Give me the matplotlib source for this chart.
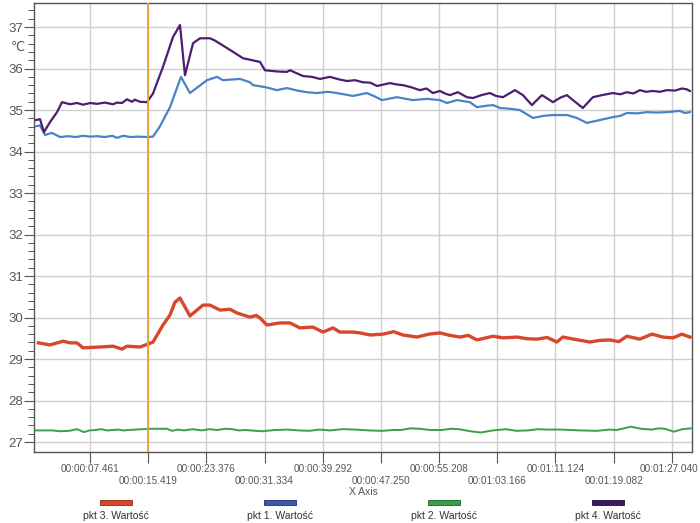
import matplotlib
matplotlib.use("Agg")
import matplotlib.pyplot as plt
import matplotlib.transforms as mtransforms
from matplotlib.patches import Rectangle

plt.rcParams['font.family'] = ['Liberation Sans Narrow', 'Liberation Sans', 'DejaVu Sans']

# ---- data (time in seconds, temperature in °C) ----
t_p4 = [0.08, 0.62, 1.17, 1.99, 2.95, 3.63, 4.73, 5.68, 6.50, 7.5, 8.42, 9.5, 10.61, 11.15,
        11.84, 12.52, 13.2, 13.6, 14.30, 15.25, 16.08, 17.44, 18.81, 19.77, 20.45, 21.55,
        22.50, 23.87, 24.5, 26.60, 28.38, 30.71, 31.39, 33.03, 34.40, 34.81, 36.59, 37.8,
        38.91, 40.28, 41.5, 42.60, 43.7, 44.79, 45.8, 46.71, 48.48, 49.3, 50.26, 51.4, 52.58,
        53.5, 54.36, 55.32, 56.0, 56.69, 57.78, 59.01, 59.83, 61.0, 62.16, 63.0, 63.94, 65.0,
        65.58, 66.67, 67.90, 69.27, 70.0, 70.77, 71.8, 72.69, 73.8, 74.87, 76.24, 77.5, 78.97,
        80.0, 80.89, 81.8, 82.67, 83.5, 84.45, 85.4, 86.36, 87.5, 88.4, 89.09, 89.51]
v_p4 = [34.76, 34.78, 34.47, 34.71, 34.95, 35.19, 35.14, 35.17, 35.13, 35.17, 35.15, 35.18,
        35.14, 35.18, 35.17, 35.26, 35.20, 35.25, 35.20, 35.19, 35.40, 36.04, 36.76, 37.05,
        35.84, 36.61, 36.73, 36.73, 36.68, 36.45, 36.25, 36.16, 35.96, 35.93, 35.92, 35.96,
        35.82, 35.80, 35.75, 35.80, 35.74, 35.70, 35.72, 35.67, 35.66, 35.58, 35.65, 35.62,
        35.60, 35.55, 35.48, 35.52, 35.41, 35.46, 35.40, 35.36, 35.43, 35.31, 35.29, 35.36,
        35.41, 35.34, 35.31, 35.42, 35.48, 35.36, 35.12, 35.36, 35.28, 35.19, 35.30, 35.36,
        35.20, 35.05, 35.31, 35.36, 35.41, 35.38, 35.43, 35.40, 35.48, 35.44, 35.46, 35.44,
        35.48, 35.47, 35.52, 35.50, 35.46]

t_p1 = [0.08, 0.62, 1.31, 2.26, 3.36, 4.5, 5.5, 6.5, 7.5, 8.42, 9.5, 10.5, 11.15, 12.0, 13.0,
        14.0, 15.3, 16.08, 17.0, 18.40, 19.90, 21.13, 23.46, 24.83, 25.65, 27.97, 29.34,
        29.75, 31.5, 33.03, 34.40, 35.8, 37.13, 38.50, 40.0, 41.24, 43.42, 45.34, 46.5, 47.39,
        49.44, 51.63, 53.54, 55.32, 56.28, 57.64, 59.42, 60.38, 61.5, 62.57, 63.54, 65.0,
        66.26, 68.04, 69.5, 70.77, 72.69, 74.05, 75.42, 77.20, 78.97, 80.0, 80.89, 82.3,
        83.62, 85.0, 86.36, 88.14, 88.8, 89.51]
v_p1 = [34.61, 34.63, 34.40, 34.45, 34.35, 34.37, 34.35, 34.38, 34.36, 34.37, 34.35, 34.38,
        34.33, 34.38, 34.35, 34.36, 34.35, 34.36, 34.60, 35.07, 35.80, 35.41, 35.72, 35.80,
        35.72, 35.75, 35.67, 35.60, 35.55, 35.48, 35.53, 35.47, 35.43, 35.41, 35.44, 35.41,
        35.34, 35.41, 35.32, 35.24, 35.31, 35.24, 35.27, 35.24, 35.17, 35.24, 35.19, 35.07,
        35.10, 35.12, 35.05, 35.03, 35.00, 34.81, 34.86, 34.88, 34.88, 34.81, 34.69, 34.76,
        34.83, 34.86, 34.93, 34.92, 34.95, 34.94, 34.95, 34.98, 34.93, 34.95]

t_p3 = [0.4, 1.99, 3.77, 4.73, 5.68, 6.50, 8.83, 10.61, 11.84, 12.52, 14.30, 15.39, 16.08,
        17.44, 18.40, 19.08, 19.77, 21.13, 22.91, 23.87, 25.24, 26.60, 27.56, 29.34, 30.2,
        30.71, 31.66, 33.44, 34.81, 36.18, 37.95, 39.32, 40.69, 41.65, 43.42, 44.38, 45.8,
        47.52, 49.0, 50.26, 52.17, 53.8, 55.32, 56.7, 58.06, 59.2, 60.38, 62.57, 64.0, 65.85,
        67.2, 68.58, 70.0, 71.32, 72.14, 73.9, 75.83, 77.2, 78.56, 79.8, 80.89, 82.67, 84.31,
        85.81, 87.18, 88.41, 89.51]
v_p3 = [29.39, 29.34, 29.43, 29.39, 29.39, 29.27, 29.29, 29.31, 29.24, 29.31, 29.29, 29.36,
        29.41, 29.82, 30.06, 30.37, 30.47, 30.04, 30.30, 30.30, 30.18, 30.20, 30.11, 30.01,
        30.05, 29.99, 29.82, 29.87, 29.87, 29.75, 29.77, 29.65, 29.75, 29.65, 29.65, 29.63,
        29.58, 29.60, 29.66, 29.58, 29.53, 29.60, 29.63, 29.57, 29.53, 29.57, 29.46, 29.55,
        29.51, 29.53, 29.49, 29.48, 29.52, 29.41, 29.53, 29.47, 29.41, 29.45, 29.46, 29.42,
        29.55, 29.48, 29.60, 29.53, 29.51, 29.60, 29.53]

t_p2 = [0.0, 2.3, 3.4, 4.59, 5.68, 6.64, 7.4, 8.2, 9.0, 9.79, 11.3, 12.0, 12.79, 15.53, 18.0,
        18.67, 19.5, 20.31, 21.5, 22.78, 23.8, 24.8, 26.0, 26.88, 27.8, 28.66, 30.98, 32.8,
        34.54, 36.0, 37.41, 38.8, 40.28, 42.0, 43.83, 45.6, 47.39, 49.0, 50.0, 51.3, 52.58,
        54.0, 55.59, 56.8, 57.91, 59.5, 60.92, 62.6, 64.34, 65.8, 67.35, 68.7, 70.0, 72.0,
        74.5, 76.79, 78.5, 79.5, 81.44, 82.8, 84.31, 85.2, 86.09, 87.32, 88.5, 89.64]
v_p2 = [27.28, 27.28, 27.26, 27.27, 27.31, 27.24, 27.28, 27.29, 27.31, 27.28, 27.30, 27.28,
        27.29, 27.32, 27.32, 27.27, 27.30, 27.28, 27.31, 27.28, 27.31, 27.29, 27.32, 27.31,
        27.28, 27.29, 27.26, 27.29, 27.30, 27.28, 27.27, 27.30, 27.28, 27.31, 27.30, 27.28,
        27.27, 27.29, 27.29, 27.33, 27.32, 27.29, 27.29, 27.32, 27.31, 27.26, 27.23, 27.28,
        27.31, 27.27, 27.28, 27.31, 27.30, 27.30, 27.28, 27.27, 27.30, 27.29, 27.37, 27.32,
        27.30, 27.33, 27.32, 27.25, 27.31, 27.33]

tick_times = [7.461, 15.419, 23.376, 31.334, 39.292, 47.250, 55.208, 63.166, 71.124, 79.082, 87.040]
tick_labels = ['00:00:07.461', '00:00:15.419', '00:00:23.376', '00:00:31.334', '00:00:39.292',
               '00:00:47.250', '00:00:55.208', '00:01:03.166', '00:01:11.124', '00:01:19.082',
               '00:01:27.040']
marker_time = 15.419

series_names = ['pkt 3. Wartość', 'pkt 1. Wartość', 'pkt 2. Wartość', 'pkt 4. Wartość']

# ---- figure ----
W, H = 700, 523
fig = plt.figure(figsize=(W / 100, H / 100), dpi=100)
ax = fig.add_axes([34 / W, 1 - 452 / H, (692 - 34) / W, (452 - 3) / H])

c_red, c_blue, c_green, c_purple = '#d8472b', '#4a82c6', '#3c9e4a', '#4c1d70'

ax.plot(t_p3, v_p3, color=c_red, lw=2.4, solid_joinstyle='round', zorder=3)
ax.plot(t_p1, v_p1, color=c_blue, lw=1.6, zorder=3)
ax.plot(t_p2, v_p2, color=c_green, lw=1.4, zorder=3)
ax.plot(t_p4, v_p4, color=c_purple, lw=1.6, zorder=3)
ax.axvline(marker_time, color='#e9a23b', lw=1.4, zorder=4)

ax.set_xlim(-0.2, 89.8)
ax.set_ylim(26.76, 37.58)

ax.set_yticks(range(27, 38))
ax.set_yticks([27 + 0.2 * i for i in range(0, 53)], minor=True)
ax.set_xticks(tick_times)
labels2 = [lab if i % 2 == 0 else '\n' + lab for i, lab in enumerate(tick_labels)]
ax.set_xticklabels(labels2, fontsize=7.2, color='#555555', linespacing=1.15)
ax.tick_params(axis='y', which='major', length=7, width=0.8, color='#555555',
               labelsize=9.5, labelcolor='#555555', pad=1)
ax.tick_params(axis='y', which='minor', length=4, width=0.7, color='#555555')
ax.tick_params(axis='x', which='major', length=8, width=0.8, color='#555555', pad=1)

# nudge the last tick label so that it stays inside the picture
last = ax.get_xticklabels()[-1]
last.set_transform(last.get_transform() + mtransforms.ScaledTranslation(-3 / 100, 0, fig.dpi_scale_trans))

ax.grid(True, which='major', color='#cfcfcf', lw=1.0)
ax.set_axisbelow(True)
for s in ax.spines.values():
    s.set_color('#555555')
    s.set_linewidth(1.0)

ax.set_xlabel('X Axis', fontsize=7.5, color='#555555', labelpad=1)
ax.xaxis.set_label_coords(0.5, -0.077)

fig.text(18 / W, 1 - 47 / H, '℃', fontsize=9, color='#555555', ha='center', va='center',
         family=['DejaVu Sans'])

# legend (custom, swatch above label)
leg_colors = [(c_red, '#8a2a18'), ('#3a5aa8', '#1e2e6a'), (c_green, '#1f5e28'), ('#3d1a60', '#1e0a33')]
centers = [116, 280, 444, 608]
for cx, name, (fc, ec) in zip(centers, series_names, leg_colors):
    fig.add_artist(Rectangle(((cx - 16) / W, 1 - 504.5 / H), 32 / W, 5 / H,
                             transform=fig.transFigure, facecolor=fc, edgecolor=ec, lw=0.6))
    fig.text(cx / W, 1 - 516 / H, name, fontsize=7.5, color='#333333', ha='center', va='center')

fig.savefig('out.png', dpi=100, facecolor='white')
